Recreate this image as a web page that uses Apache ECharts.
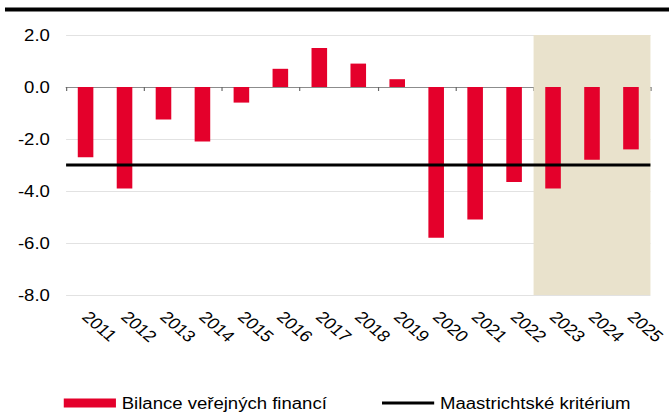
<!DOCTYPE html>
<html>
<head>
<meta charset="utf-8">
<script src="https://cdn.jsdelivr.net/npm/echarts@6/dist/echarts.min.js"></script>
<style>
html,body{margin:0;padding:0;overflow:hidden;background:#fff;width:669px;height:412px;}
#wrap{width:669px;height:412px;overflow:hidden;}
#chart{width:577px;height:412px;transform:scaleX(1.1594);transform-origin:0 0;}
</style>
</head>
<body>
<div id="wrap"><div id="chart"></div></div>
<script>
const categories = ['2011','2012','2013','2014','2015','2016','2017','2018','2019','2020','2021','2022','2023','2024','2025'];
const balance = [-2.7, -3.9, -1.25, -2.1, -0.6, 0.7, 1.5, 0.9, 0.3, -5.8, -5.1, -3.65, -3.9, -2.8, -2.4];
const criterion = [-3.0];
const forecastYears = ['2023','2024','2025'];
const yTicks = [2, 0, -2, -4, -6, -8];

const barName = 'Bilance veřejných financí';
const lineName = 'Maastrichtské kritérium';
const font = "'Liberation Sans', Arial, sans-serif";

const n = categories.length;
const fStart = categories.indexOf(forecastYears[0]);
const fEnd = categories.indexOf(forecastYears[forecastYears.length - 1]) + 1;

const chart = echarts.init(document.getElementById('chart'), null, {renderer: 'svg'});
chart.setOption({
  animation: false,
  textStyle: {fontFamily: font},
  grid: {left: 57, right: 11, top: 35, bottom: 117, containLabel: false},
  graphic: [{
    type: 'rect', left: 4.3, top: 7.5, z: 10,
    shape: {width: 600, height: 4},
    style: {fill: '#000'}
  }],
  legend: {
    data: [
      {name: barName, icon: 'rect'},
      {name: lineName, itemStyle: {opacity: 0, borderWidth: 0}, lineStyle: {color: '#000', width: 3}}
    ],
    left: 55, top: 395, padding: 0,
    itemWidth: 45, itemHeight: 9, itemGap: 46,
    textStyle: {fontSize: 16, color: '#000', fontFamily: font}
  },
  xAxis: [{
    type: 'category', data: categories,
    axisLine: {onZero: true, lineStyle: {color: '#8c8c8c', width: 1}},
    axisTick: {show: true, length: 4, lineStyle: {color: '#666'}},
    axisLabel: {show: false},
    splitLine: {show: false}
  }, {
    type: 'category', data: categories, position: 'bottom',
    axisLine: {show: false, onZero: false}, axisTick: {show: false},
    axisLabel: {rotate: -45, margin: 19, fontSize: 16, color: '#000', fontFamily: font, interval: 0}
  }, {
    type: 'value', min: 0, max: n, show: false
  }],
  yAxis: {
    type: 'value', min: yTicks[yTicks.length - 1], max: yTicks[0], interval: 2,
    axisLine: {show: false}, axisTick: {show: false},
    axisLabel: {fontSize: 16, color: '#000', margin: 14, fontFamily: font,
      formatter: v => v.toFixed(1)},
    splitLine: {lineStyle: {color: '#e2e2e2', width: 1}}
  },
  series: [{
    name: barName, type: 'bar', data: balance, xAxisIndex: 0,
    barWidth: '40%', itemStyle: {color: '#e4002b'}, z: 3
  }, {
    name: lineName, type: 'line', xAxisIndex: 2,
    data: [[0, criterion[0]], [n, criterion[0]]],
    symbol: 'none', lineStyle: {color: '#000', width: 3}, itemStyle: {color: '#000'}, z: 4
  }, {
    name: 'forecast', type: 'line', xAxisIndex: 2, data: [], z: -1,
    markArea: {
      silent: true,
      itemStyle: {color: '#e9e2cc'},
      data: [[{xAxis: fStart}, {xAxis: fEnd}]]
    }
  }]
});
</script>
</body>
</html>
